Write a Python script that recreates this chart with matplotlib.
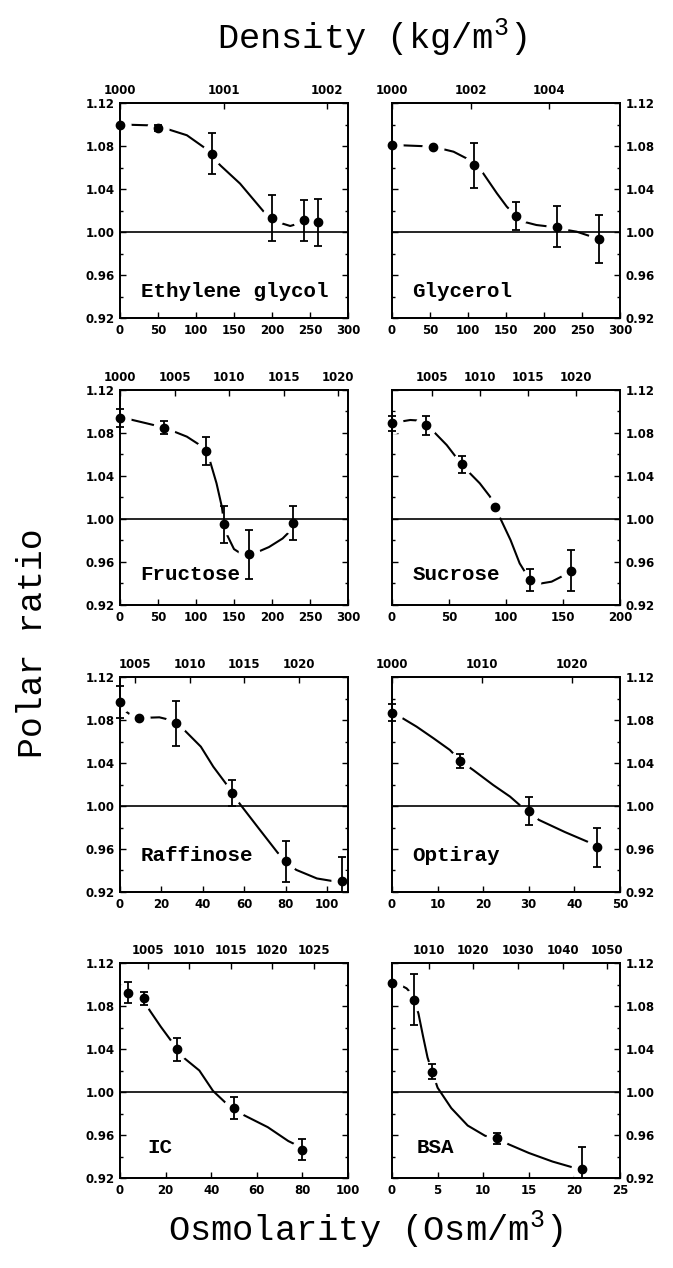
import matplotlib
matplotlib.use('Agg')
import matplotlib.pyplot as plt
from matplotlib.ticker import FixedLocator, MultipleLocator
from matplotlib.patches import Rectangle

plt.rcParams['font.family'] = ['DejaVu Sans']
plt.rcParams['font.weight'] = 'bold'
plt.rcParams['mathtext.fontset'] = 'custom'
plt.rcParams['mathtext.rm'] = 'Liberation Mono:normal'
plt.rcParams['mathtext.it'] = 'Liberation Mono:normal'
plt.rcParams['mathtext.bf'] = 'Liberation Mono:bold'

# ---------------- data ----------------
y_ticks = [0.92, 0.96, 1.00, 1.04, 1.08, 1.12]

# Ethylene glycol
eg_osm = [0, 50, 121, 200, 242, 261]
eg_ratio = [1.100, 1.097, 1.073, 1.013, 1.011, 1.009]
eg_err = [0.0, 0.003, 0.019, 0.021, 0.019, 0.022]
eg_fit_osm = [0, 50, 59, 88, 110, 132, 158, 189, 200, 213, 224, 233, 242]
eg_fit_ratio = [1.100, 1.099, 1.0965, 1.090, 1.079, 1.062, 1.045, 1.019, 1.012, 1.008, 1.0056, 1.0075, 1.011]
eg_xticks = [0, 50, 100, 150, 200, 250, 300]
eg_dens_lim = (1000.0, 1002.2)
eg_dens_ticks = [1000, 1001, 1002]

# Glycerol
gl_osm = [0, 53.5, 108, 163, 217.5, 273]
gl_ratio = [1.081, 1.079, 1.062, 1.015, 1.005, 0.9935]
gl_err = [0.0, 0.0, 0.021, 0.013, 0.019, 0.022]
gl_fit_osm = [0, 53.5, 63, 81, 98, 120, 138, 151, 163, 173, 190, 208, 225, 243, 263, 273]
gl_fit_ratio = [1.081, 1.0795, 1.0778, 1.0747, 1.0685, 1.0546, 1.036, 1.0236, 1.015, 1.0096,
                1.0065, 1.005, 1.0025, 1.0003, 0.9956, 0.9935]
gl_xticks = [0, 50, 100, 150, 200, 250, 300]
gl_dens_lim = (1000.0, 1005.8)
gl_dens_ticks = [1000, 1002, 1004]

# Fructose
fr_osm = [0, 58, 113, 137, 170, 228]
fr_ratio = [1.094, 1.085, 1.063, 0.995, 0.967, 0.9963]
fr_err = [0.008, 0.006, 0.013, 0.017, 0.023, 0.0155]
fr_fit_osm = [0, 13, 35, 53, 66, 88, 105, 113, 118, 127, 134, 137, 141, 150, 160, 170, 180, 196, 214, 223, 228]
fr_fit_ratio = [1.094, 1.0927, 1.089, 1.0859, 1.0828, 1.0766, 1.0688, 1.063, 1.0549, 1.0332, 1.0114,
                0.996, 0.985, 0.972, 0.9674, 0.967, 0.969, 0.9739, 0.9819, 0.9882, 0.9963]
fr_xticks = [0, 50, 100, 150, 200, 250, 300]
fr_dens_lim = (1000.0, 1020.9)
fr_dens_ticks = [1000, 1005, 1010, 1015, 1020]

# Sucrose
su_osm = [0, 30, 61, 90, 121, 157]
su_ratio = [1.089, 1.087, 1.051, 1.0115, 0.9433, 0.9517]
su_err = [0.007, 0.009, 0.008, 0.0, 0.0105, 0.019]
su_fit_osm = [0, 7, 16, 25, 30, 38, 48, 57, 61, 67, 77, 86, 90, 95, 104, 112, 121, 131, 140, 149, 157]
su_fit_ratio = [1.089, 1.0905, 1.0921, 1.0915, 1.089, 1.0797, 1.0688, 1.0564, 1.051, 1.044, 1.0332,
                1.0208, 1.0115, 1.0006, 0.9804, 0.9587, 0.9433, 0.9401, 0.9417, 0.9466, 0.9517]
su_xticks = [0, 50, 100, 150, 200]
su_dens_lim = (1000.88, 1024.58)
su_dens_ticks = [1005, 1010, 1015, 1020]

# Raffinose
ra_osm = [0, 9, 27, 54, 80, 107]
ra_ratio = [1.0965, 1.0816, 1.0769, 1.0118, 0.9486, 0.9303]
ra_err = [0.015, 0.0, 0.021, 0.012, 0.019, 0.022]
ra_fit_osm = [0, 3, 6, 9, 13, 19, 23, 27, 31, 39, 45, 51, 54, 58, 67, 76, 80, 85, 95, 105, 107]
ra_fit_ratio = [1.0965, 1.0877, 1.0837, 1.0816, 1.0821, 1.0825, 1.0806, 1.0769, 1.0707, 1.0552, 1.0366,
                1.0211, 1.0118, 1.0015, 0.979, 0.9567, 0.9486, 0.9406, 0.9326, 0.9294, 0.9303]
ra_xticks = [0, 20, 40, 60, 80, 100]
ra_xmax = 110
ra_dens_lim = (1003.64, 1024.5)
ra_dens_ticks = [1005, 1010, 1015, 1020]

# Optiray
op_osm = [0, 15, 30, 45]
op_ratio = [1.0868, 1.0419, 0.9954, 0.9614]
op_err = [0.008, 0.0064, 0.013, 0.018]
op_fit_osm = [0, 1.75, 5.4, 9.1, 12.7, 15, 17.8, 22.2, 25.9, 28.4, 30, 32.2, 37.9, 43.2, 45]
op_fit_ratio = [1.0868, 1.0831, 1.0738, 1.063, 1.0521, 1.0419, 1.0335, 1.0195, 1.0087, 0.9994,
                0.9954, 0.9871, 0.9758, 0.9662, 0.9614]
op_xticks = [0, 10, 20, 30, 40, 50]
op_dens_lim = (1000.0, 1025.4)
op_dens_ticks = [1000, 1010, 1020]

# IC
ic_osm = [3.6, 10.7, 25, 50, 80]
ic_ratio = [1.0924, 1.0871, 1.0397, 0.9855, 0.9465]
ic_err = [0.0096, 0.0062, 0.0104, 0.0103, 0.0096]
ic_fit_osm = [3.6, 10.7, 12.9, 17.9, 22.2, 25, 27.3, 34.8, 40.8, 46, 50, 54.3, 64.8, 73.8, 78.3, 80]
ic_fit_ratio = [1.0924, 1.0871, 1.0763, 1.0607, 1.0483, 1.0397, 1.033, 1.020, 1.001, 0.9906, 0.9855,
                0.9785, 0.9673, 0.9544, 0.9497, 0.9465]
ic_xticks = [0, 20, 40, 60, 80, 100]
ic_dens_lim = (1001.65, 1029.1)
ic_dens_ticks = [1005, 1010, 1015, 1020, 1025]

# BSA
bs_osm = [0, 2.4, 4.4, 11.5, 20.8]
bs_ratio = [1.101, 1.086, 1.019, 0.957, 0.928]
bs_err = [0.0, 0.024, 0.007, 0.005, 0.021]
bs_fit_osm = [0, 0.9, 1.6, 2.1, 2.4, 2.9, 3.4, 3.9, 4.4, 5.0, 6.5, 8.3, 10.2, 11.5, 12.8, 15, 17.6, 19.6, 20.8]
bs_fit_ratio = [1.101, 1.0995, 1.0964, 1.0918, 1.086, 1.073, 1.052, 1.032, 1.019, 1.004, 0.985, 0.9688,
                0.9593, 0.957, 0.9513, 0.9433, 0.9353, 0.9304, 0.928]
bs_xticks = [0, 5, 10, 15, 20, 25]
bs_dens_lim = (1001.8, 1052.8)
bs_dens_ticks = [1010, 1020, 1030, 1040, 1050]

names = ["Ethylene glycol", "Glycerol", "Fructose", "Sucrose", "Raffinose", "Optiray", "IC", "BSA"]

panels = [
    (names[0], eg_osm, eg_ratio, eg_err, eg_fit_osm, eg_fit_ratio, eg_xticks, 300, eg_dens_lim, eg_dens_ticks),
    (names[1], gl_osm, gl_ratio, gl_err, gl_fit_osm, gl_fit_ratio, gl_xticks, 300, gl_dens_lim, gl_dens_ticks),
    (names[2], fr_osm, fr_ratio, fr_err, fr_fit_osm, fr_fit_ratio, fr_xticks, 300, fr_dens_lim, fr_dens_ticks),
    (names[3], su_osm, su_ratio, su_err, su_fit_osm, su_fit_ratio, su_xticks, 200, su_dens_lim, su_dens_ticks),
    (names[4], ra_osm, ra_ratio, ra_err, ra_fit_osm, ra_fit_ratio, ra_xticks, ra_xmax, ra_dens_lim, ra_dens_ticks),
    (names[5], op_osm, op_ratio, op_err, op_fit_osm, op_fit_ratio, op_xticks, 50, op_dens_lim, op_dens_ticks),
    (names[6], ic_osm, ic_ratio, ic_err, ic_fit_osm, ic_fit_ratio, ic_xticks, 100, ic_dens_lim, ic_dens_ticks),
    (names[7], bs_osm, bs_ratio, bs_err, bs_fit_osm, bs_fit_ratio, bs_xticks, 25, bs_dens_lim, bs_dens_ticks),
]

# ---------------- layout ----------------
W, H = 673, 1268
fig = plt.figure(figsize=(W / 100, H / 100), dpi=100)
col_left = [120, 392]
row_top = [103, 390, 677, 963]
pw, ph = 228, 215
label_pos = [(0.09, 0.125), (0.09, 0.125), (0.09, 0.14), (0.09, 0.14),
             (0.09, 0.17), (0.09, 0.17), (0.12, 0.14), (0.11, 0.14)]

mono = 'Liberation Mono'
tick_fs = 8.5
lw = 1.3

for i, (name, osm, ratio, err, fx, fy, xt, xmax, dlim, dticks) in enumerate(panels):
    r, c = divmod(i, 2)
    rect = [col_left[c] / W, 1 - (row_top[r] + ph) / H, pw / W, ph / H]
    ax = fig.add_axes(rect)
    ax.set_xlim(0, xmax)
    ax.set_ylim(0.92, 1.12)
    for sp in ax.spines.values():
        sp.set_linewidth(lw)

    ax.plot(fx, fy, color='k', lw=1.5, zorder=1, solid_capstyle='butt')
    ax.plot(osm, ratio, 'o', ms=15, color='white', mec='white', zorder=2)
    ax.axhline(1.0, color='k', lw=1.2, zorder=2.4)
    ex = [o for o, e in zip(osm, err) if e > 0]
    ey = [v for v, e in zip(ratio, err) if e > 0]
    ee = [e for e in err if e > 0]
    cont = ax.errorbar(ex, ey, yerr=ee, fmt='none', ecolor='k', elinewidth=1.3,
                       capsize=3, capthick=1.3, zorder=3)
    clip_rect = Rectangle((-0.1, 0.0), 1.2, 1.0, transform=ax.transAxes,
                          facecolor='none', edgecolor='none')
    for art in cont.get_children():
        art.set_clip_path(clip_rect)
    ax.plot(osm, ratio, 'o', ms=6, color='k', zorder=4, clip_on=False)

    ax.xaxis.set_major_locator(FixedLocator(xt))
    ax.set_xticklabels([str(v) for v in xt])
    ax.yaxis.set_major_locator(FixedLocator(y_ticks))
    ax.yaxis.set_minor_locator(MultipleLocator(0.02))
    ax.set_yticklabels(['%.2f' % v for v in y_ticks])
    ax.tick_params(which='both', direction='in', left=True, right=True, top=False, bottom=True,
                   width=1.0, labelsize=tick_fs, pad=4)
    ax.tick_params(which='major', length=4)
    ax.tick_params(which='minor', length=2.5)
    if c == 0:
        ax.tick_params(labelleft=True, labelright=False)
    else:
        ax.tick_params(labelleft=False, labelright=True)

    axt = ax.twiny()
    axt.set_xlim(*dlim)
    axt.xaxis.set_major_locator(FixedLocator(dticks))
    axt.set_xticklabels([str(v) for v in dticks])
    axt.tick_params(direction='in', length=4, width=1.0, labelsize=tick_fs, pad=4)
    for sp in axt.spines.values():
        sp.set_linewidth(lw)

    lx, ly = label_pos[i]
    ax.text(lx, ly, name, transform=ax.transAxes, fontfamily=mono, fontweight='bold',
            fontsize=15, va='center', ha='left', zorder=5)

fig.text(372 / W, 1 - 38 / H, r'Density (kg/m$^{3}$)', fontfamily=mono, fontweight='normal',
         fontsize=25.5, ha='center', va='center')
fig.text(33 / W, 1 - 643 / H, 'Polar ratio', fontfamily=mono, fontweight='normal',
         fontsize=25, ha='center', va='center', rotation=90)
fig.text(365 / W, 1 - 1230 / H, r'Osmolarity (Osm/m$^{3}$)', fontfamily=mono, fontweight='normal',
         fontsize=25.5, ha='center', va='center')

fig.savefig('out.png', dpi=100, facecolor='white')
